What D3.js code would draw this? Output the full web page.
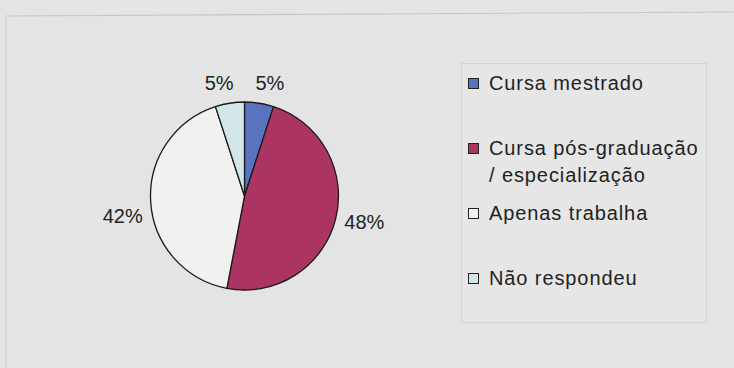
<!DOCTYPE html>
<html>
<head>
<meta charset="utf-8">
<script src="https://cdn.jsdelivr.net/npm/d3@7"></script>
<style>
  html, body { margin: 0; padding: 0; background: #e4e4e4; }
  svg { display: block; }
  text { font-family: "Liberation Sans", Arial, sans-serif; fill: #222; }
</style>
</head>
<body>
<svg id="chart" width="734" height="368"></svg>
<script>
// Situação dos egressos (%)
const categories = ["Cursa mestrado", "Cursa pós-graduação / especialização", "Apenas trabalha", "Não respondeu"];
const legendLines = [["Cursa mestrado"], ["Cursa pós-graduação", "/ especialização"], ["Apenas trabalha"], ["Não respondeu"]];
const values = [5, 48, 42, 5];
const colors = ["#5a73be", "#ab3462", "#f1f1f0", "#d2e6ea"];

const svg = d3.select("#chart");
const W = 734, H = 368;

// outer frame edges
svg.append("line").attr("x1", 6).attr("y1", 16).attr("x2", W).attr("y2", 12)
  .attr("stroke", "#c6c6c6").attr("stroke-width", 1.2);
svg.append("line").attr("x1", 6).attr("y1", 16).attr("x2", 6).attr("y2", H)
  .attr("stroke", "#d0d0d0").attr("stroke-width", 1.2);

// pie
const cx = 244.5, cy = 196, r = 94;
const pie = d3.pie().sort(null).value(d => d)(values);
const arc = d3.arc().innerRadius(0).outerRadius(r);
const g = svg.append("g").attr("transform", `translate(${cx},${cy})`);

g.selectAll("path").data(pie).join("path")
  .attr("d", arc)
  .attr("fill", (d, i) => colors[i])
  .attr("stroke", "#1a1a1a")
  .attr("stroke-width", 1.3)
  .attr("stroke-linejoin", "round");

// percentage labels just outside the rim
const labelR = r + 8;
g.selectAll("text.pct").data(pie).join("text")
  .attr("class", "pct")
  .each(function (d) {
    const a = (d.startAngle + d.endAngle) / 2;
    const px = labelR * Math.sin(a), py = -labelR * Math.cos(a);
    const right = Math.sin(a) >= 0;
    const top = Math.cos(a) > 0.5;
    d3.select(this)
      .attr("x", top ? px + (right ? -5 : 5) : px + (right ? 1 : 0))
      .attr("y", top ? py - 5 : py + (right ? 2 : 15))
      .attr("text-anchor", right ? "start" : "end")
      .attr("dominant-baseline", top ? "alphabetic" : "middle");
  })
  .style("font-size", "20px")
  .text(d => d.value + "%");

// legend
const lg = svg.append("g");
lg.append("rect")
  .attr("x", 461.5).attr("y", 63.5).attr("width", 245).attr("height", 259)
  .attr("fill", "#e6e6e6").attr("stroke", "#d2d2d2").attr("stroke-width", 1);

const itemY = d3.scalePoint().domain(categories).range([84, 279]);
const item = lg.selectAll("g.item").data(categories).join("g")
  .attr("class", "item")
  .attr("transform", d => `translate(0,${itemY(d)})`);

item.append("rect")
  .attr("x", 468.5).attr("y", -5.5).attr("width", 10).attr("height", 10)
  .attr("fill", (d, i) => colors[i])
  .attr("stroke", "#222").attr("stroke-width", 1);

item.each(function (d, i) {
  const t = d3.select(this).append("text")
    .attr("x", 489).attr("y", 6)
    .style("font-size", "20px")
    .style("letter-spacing", "0.9px");
  legendLines[i].forEach((ln, j) => {
    t.append("tspan").attr("x", 489).attr("dy", j === 0 ? 0 : 27).text(ln);
  });
});
</script>
</body>
</html>
